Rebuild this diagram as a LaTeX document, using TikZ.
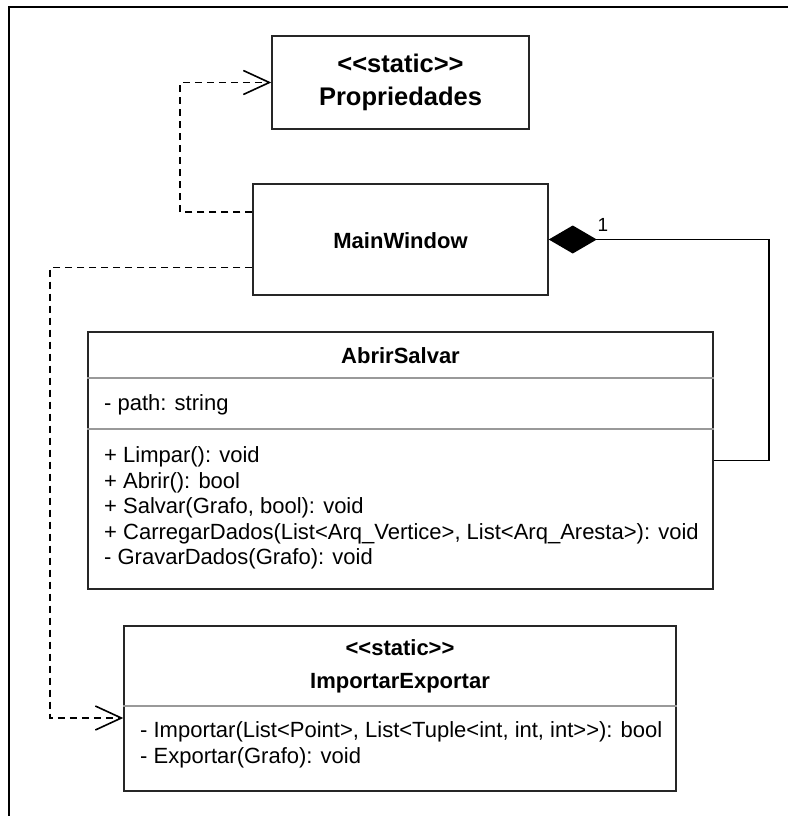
\documentclass[tikz,border=0pt]{standalone}
\usepackage{fontspec}
\setmainfont{Liberation Sans}[Ligatures=TeXOff]
\usetikzlibrary{arrows.meta}

\begin{document}
\begin{tikzpicture} [x=1bp,y=-1bp,
			classbox/.style={draw=black!85,line width=1.5bp,inner sep=0pt},
			clsname/.style={font=\bfseries\fontsize{22bp}{26bp}\selectfont,inner sep=0pt},
			member/.style={font=\fontsize{22bp}{25.5bp}\selectfont,align=left,anchor=west,inner sep=0pt},
			sep/.style={draw=black!40,line width=2bp},
			dep/.style={line width=1.6bp,dash pattern=on 7bp off 5bp,-{Straight Barb[length=26bp,width=24bp]}},
			comp/.style={line width=1.5bp,{Diamond[length=48bp,width=28bp]}-}]

		\useasboundingbox (0,0) rectangle (788,816);
		\draw [line width=1.5bp] (9,816) -- (9,7) -- (788,7);

		% classes
		\node [classbox, minimum width=257bp, minimum height=93bp] (prop) at (400.5,82.5) {};
		\node [clsname, font=\bfseries\fontsize{25.5bp}{30bp}\selectfont] (propst) at (400.5,63) {<<static>>};
		\node [clsname, font=\bfseries\fontsize{25.5bp}{30bp}\selectfont] (propname) at (400.5,99) {Propriedades};

		\node [classbox, minimum width=295bp, minimum height=111bp] (mw) at (400.5,239.5) {};
		\node [clsname] (mwname) at (400.5,241) {MainWindow};

		\node [classbox, minimum width=625bp, minimum height=257bp] (as) at (400.5,460.5) {};
		\node [clsname] (asname) at (400.5,356) {AbrirSalvar};
		\draw [sep] (as.west |- 0,378) -- (as.east |- 0,378);
		\node [member] (asattr) at (104,405) {- path: string};
		\draw [sep] (as.west |- 0,429) -- (as.east |- 0,429);
		\node [member] (asops) at (104,508) {+ Limpar(): void\\
			+ Abrir(): bool\\
			+ Salvar(Grafo, bool): void\\
			+ CarregarDados(List<Arq\_Vertice>, List<Arq\_Aresta>): void\\
			- GravarDados(Grafo): void};

		\node [classbox, minimum width=552bp, minimum height=165bp] (ie) at (400,708.5) {};
		\node [clsname] (iest) at (400,648) {<<static>>};
		\node [clsname] (iename) at (400,683) {ImportarExportar};
		\draw [sep] (ie.west |- 0,706) -- (ie.east |- 0,706);
		\node [member] (ieops) at (140,745) {- Importar(List<Point>, List<Tuple<int, int, int>>): bool\\
			- Exportar(Grafo): void};

		% relations
		\draw [dep] ([yshift=27.5bp]mw.west) -- ++(-72,0) |- (prop.west);
		\draw [dep] ([yshift=-28bp]mw.west) -- ++(-202,0) |- ([yshift=-9.5bp]ie.west);
		\draw [comp] (mw.east) -- ++(220,0) |- (as.east);
		\node [font=\fontsize{19bp}{21bp}\selectfont, inner sep=0pt] (mult) at (603,225) {1};

		\end{tikzpicture}
\end{document}
